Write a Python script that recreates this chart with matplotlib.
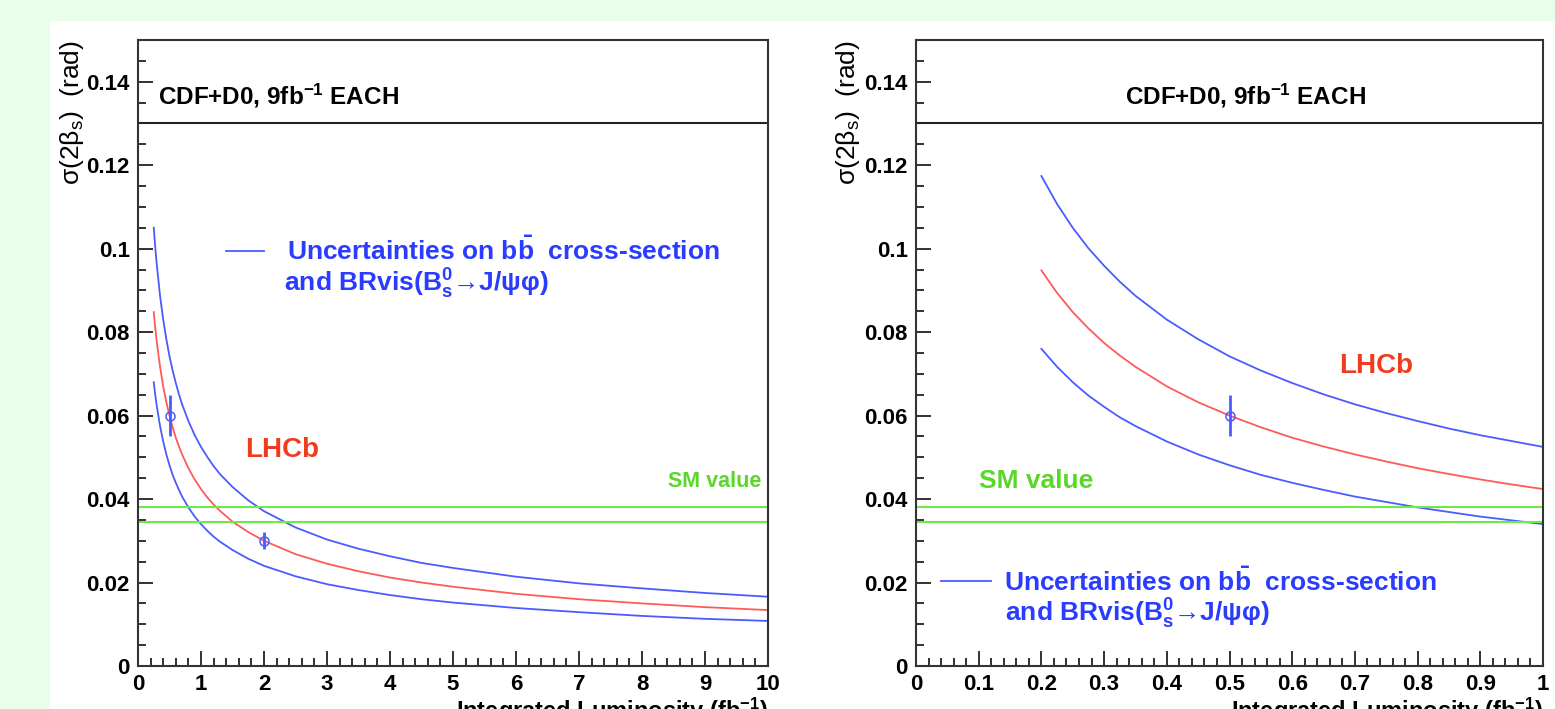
import matplotlib
matplotlib.use('Agg')
import matplotlib.pyplot as plt
from matplotlib.patches import Rectangle
from matplotlib.ticker import MultipleLocator

plt.rcParams['font.family'] = ['Liberation Sans', 'DejaVu Sans']
plt.rcParams['mathtext.default'] = 'regular'

# left panel: luminosity 0.25 - 10 fb^-1
lum_left = [0.25, 0.275, 0.3, 0.35, 0.4, 0.45, 0.5, 0.55, 0.6, 0.65, 0.7, 0.8, 0.9,
            1.0, 1.1, 1.2, 1.3, 1.5, 1.75, 2.0, 2.5, 3.0, 3.5, 4.0, 4.5, 5.0,
            6.0, 7.0, 8.0, 9.0, 10.0]
lhcb_left = [0.0848, 0.0809, 0.0774, 0.0717, 0.0670, 0.0632, 0.0600, 0.0572,
             0.0547, 0.0526, 0.0507, 0.0474, 0.0447, 0.0424, 0.0404, 0.0387,
             0.0372, 0.0346, 0.0321, 0.0300, 0.0268, 0.0245, 0.0227, 0.0212,
             0.0200, 0.0190, 0.0173, 0.0160, 0.0150, 0.0141, 0.0134]
upper_left = [0.1050, 0.1001, 0.0959, 0.0887, 0.0830, 0.0783, 0.0742, 0.0708,
              0.0678, 0.0651, 0.0627, 0.0587, 0.0553, 0.0525, 0.0501, 0.0479,
              0.0460, 0.0429, 0.0397, 0.0371, 0.0332, 0.0303, 0.0281, 0.0263,
              0.0247, 0.0235, 0.0214, 0.0198, 0.0186, 0.0175, 0.0166]
lower_left = [0.0680, 0.0648, 0.0621, 0.0575, 0.0538, 0.0507, 0.0481, 0.0458,
              0.0439, 0.0422, 0.0406, 0.0380, 0.0358, 0.0340, 0.0324, 0.0310,
              0.0298, 0.0278, 0.0257, 0.0240, 0.0215, 0.0196, 0.0182, 0.0170,
              0.0160, 0.0152, 0.0139, 0.0129, 0.0120, 0.0113, 0.0108]
pts_left_x = [0.5, 2.0]
pts_left_y = [0.060, 0.030]
pts_left_err = [0.005, 0.002]

# right panel: zoom 0.2 - 1 fb^-1
lum_right = [0.2, 0.225, 0.25, 0.275, 0.3, 0.325, 0.35, 0.4, 0.45, 0.5, 0.55, 0.6,
             0.65, 0.7, 0.75, 0.8, 0.85, 0.9, 0.95, 1.0]
lhcb_right = [0.0948, 0.0894, 0.0848, 0.0809, 0.0774, 0.0744, 0.0717, 0.0670,
              0.0632, 0.0600, 0.0572, 0.0547, 0.0526, 0.0507, 0.0490, 0.0474,
              0.0460, 0.0447, 0.0435, 0.0424]
upper_right = [0.1174, 0.1107, 0.1050, 0.1001, 0.0959, 0.0921, 0.0887, 0.0830,
               0.0783, 0.0742, 0.0708, 0.0678, 0.0651, 0.0627, 0.0606, 0.0587,
               0.0569, 0.0553, 0.0539, 0.0525]
lower_right = [0.0760, 0.0717, 0.0680, 0.0648, 0.0621, 0.0596, 0.0575, 0.0538,
               0.0507, 0.0481, 0.0458, 0.0439, 0.0422, 0.0406, 0.0393, 0.0380,
               0.0369, 0.0358, 0.0349, 0.0340]
pts_right_x = [0.5]
pts_right_y = [0.060]
pts_right_err = [0.005]

sm_band = [0.0345, 0.038]
cdf_d0 = 0.13

yticks = [0, 0.02, 0.04, 0.06, 0.08, 0.1, 0.12, 0.14]
ylabels = ['0', '0.02', '0.04', '0.06', '0.08', '0.1', '0.12', '0.14']
xticks_left = list(range(11))
xlabels_left = [str(i) for i in xticks_left]
xticks_right = [0, 0.1, 0.2, 0.3, 0.4, 0.5, 0.6, 0.7, 0.8, 0.9, 1.0]
xlabels_right = ['0', '0.1', '0.2', '0.3', '0.4', '0.5', '0.6', '0.7', '0.8', '0.9', '1']

blue = '#4a5cff'
red = '#ff5a5a'
green = '#6ee84a'
txt_blue = '#2a3cff'
txt_red = '#f03c1e'
txt_green = '#5ad82a'

fig = plt.figure(figsize=(15.55, 7.09), dpi=100)
fig.patch.set_facecolor('#eaffea')
fig.patches.append(Rectangle((50 / 1555, 0), 1, (709 - 21) / 709, transform=fig.transFigure,
                             facecolor='white', edgecolor='none', zorder=-10))

ax1 = fig.add_axes([138 / 1555, 43 / 709, 630 / 1555, 626 / 709])
ax2 = fig.add_axes([916 / 1555, 43 / 709, 627 / 1555, 626 / 709])

panels = [
    (ax1, lum_left, lhcb_left, upper_left, lower_left, pts_left_x, pts_left_y, pts_left_err,
     (0, 10), xticks_left, xlabels_left, 0.2),
    (ax2, lum_right, lhcb_right, upper_right, lower_right, pts_right_x, pts_right_y, pts_right_err,
     (0, 1), xticks_right, xlabels_right, 0.02),
]

for ax, lx, ly, up, lo, px, py, pe, xlim, xt, xl, xminor in panels:
    ax.plot(lx, up, color=blue, lw=1.3)
    ax.plot(lx, lo, color=blue, lw=1.3)
    ax.plot(lx, ly, color=red, lw=1.3)
    for v in sm_band:
        ax.axhline(v, color=green, lw=1.5)
    ax.axhline(cdf_d0, color='#222222', lw=1.5)
    ax.errorbar(px, py, yerr=pe, fmt='o', ms=6.5, mfc='none', mec=blue, mew=1.1,
                ecolor=blue, elinewidth=2, capsize=0, zorder=5)
    ax.set_xlim(*xlim)
    ax.set_ylim(0, 0.15)
    ax.set_xticks(xt)
    ax.set_xticklabels(xl)
    ax.set_yticks(yticks)
    ax.set_yticklabels(ylabels)
    ax.yaxis.set_minor_locator(MultipleLocator(0.005))
    ax.xaxis.set_minor_locator(MultipleLocator(xminor))
    ax.tick_params(which='both', direction='in', top=False, right=False,
                   labelsize=16, width=1.3, color='#222222')
    ax.tick_params(which='major', length=11, pad=6)
    ax.tick_params(which='minor', length=6)
    for lab in ax.get_xticklabels() + ax.get_yticklabels():
        lab.set_fontweight('bold')
    for s in ax.spines.values():
        s.set_linewidth(1.5)
        s.set_color('#333333')
    ax.text(1.0, -0.048, 'Integrated Luminosity (fb$^{-1}$)', transform=ax.transAxes,
            ha='right', va='top', fontsize=17, fontweight='bold')

ax1.text(-0.104, 1.0, r'σ(2β$_s$)  (rad)', transform=ax1.transAxes, rotation=90,
         ha='center', va='top', fontsize=19)
ax2.text(-0.108, 1.0, r'σ(2β$_s$)  (rad)', transform=ax2.transAxes, rotation=90,
         ha='center', va='top', fontsize=19)

# left panel annotations
ax1.text(0.32, 0.1365, 'CDF+D0, 9fb$^{-1}$ EACH', ha='left', va='center',
         fontsize=17.5, fontweight='bold')
ax1.plot([1.4, 2.0], [0.0995, 0.0995], color=blue, lw=1.3)
ax1.text(2.37, 0.0995, r'Uncertainties on b$\bar{b}$  cross-section', ha='left', va='center',
         fontsize=19, fontweight='bold', color=txt_blue)
ax1.text(2.2, 0.0915, r' and BRvis(B$_s^0$→J/ψφ)', ha='left', va='center',
         fontsize=19, fontweight='bold', color=txt_blue)
ax1.text(1.7, 0.0518, 'LHCb', ha='left', va='center', fontsize=20, fontweight='bold', color=txt_red)
ax1.text(8.42, 0.0443, 'SM value', ha='left', va='center', fontsize=15.5, fontweight='bold', color=txt_green)

# right panel annotations
ax2.text(0.525, 0.1365, 'CDF+D0, 9fb$^{-1}$ EACH', ha='center', va='center',
         fontsize=17.5, fontweight='bold')
ax2.plot([0.04, 0.12], [0.0203, 0.0203], color=blue, lw=1.3)
ax2.text(0.14, 0.0203, r'Uncertainties on b$\bar{b}$  cross-section', ha='left', va='center',
         fontsize=19, fontweight='bold', color=txt_blue)
ax2.text(0.13, 0.0125, r' and BRvis(B$_s^0$→J/ψφ)', ha='left', va='center',
         fontsize=19, fontweight='bold', color=txt_blue)
ax2.text(0.675, 0.0718, 'LHCb', ha='left', va='center', fontsize=20, fontweight='bold', color=txt_red)
ax2.text(0.1, 0.0443, 'SM value', ha='left', va='center', fontsize=19, fontweight='bold', color=txt_green)

fig.savefig('out.png', dpi=100, facecolor=fig.get_facecolor())
